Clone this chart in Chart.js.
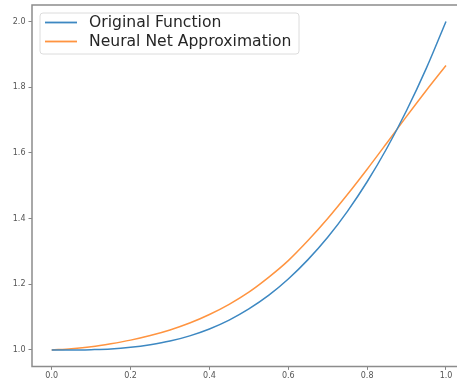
<!DOCTYPE html>
<html>
<head>
<meta charset="utf-8">
<script src="https://cdn.jsdelivr.net/npm/chart.js@4.4.0/dist/chart.umd.min.js"></script>
<style>
  html, body { margin: 0; padding: 0; background: #fff; overflow: hidden; width: 457px; height: 381px; }
  #wrap { position: absolute; left: 0; top: 0; width: 457px; height: 381px; overflow: hidden; }
  #c { display: block; }
</style>
</head>
<body>
<div id="wrap"><canvas id="c" width="470" height="381"></canvas></div>
<script>
const xValues = [0.00, 0.05, 0.10, 0.15, 0.20, 0.25, 0.30, 0.35, 0.40, 0.45, 0.50,
                 0.55, 0.60, 0.65, 0.70, 0.75, 0.80, 0.85, 0.90, 0.95, 1.00];
const originalValues = [1.000, 1.000, 1.001, 1.003, 1.008, 1.016, 1.027, 1.043, 1.064, 1.091, 1.125,
                        1.166, 1.216, 1.275, 1.343, 1.422, 1.512, 1.614, 1.729, 1.857, 2.000];
const nnValues = [1.000, 1.004, 1.010, 1.019, 1.030, 1.044, 1.061, 1.082, 1.108, 1.139, 1.176,
                  1.221, 1.272, 1.333, 1.400, 1.473, 1.550, 1.630, 1.711, 1.790, 1.866];
const seriesNames = ['Original Function', 'Neural Net Approximation'];
const xTicks = [0.0, 0.2, 0.4, 0.6, 0.8, 1.0];
const yTicks = [1.0, 1.2, 1.4, 1.6, 1.8, 2.0];

const BLUE = '#3d88c2', ORANGE = '#ff9440';

const framePlugin = {
  id: 'frame',
  afterDatasetsDraw(chart) {
    const { ctx, chartArea: a } = chart;
    ctx.save();
    ctx.strokeStyle = '#8c8c8c';
    ctx.lineWidth = 1.5;
    ctx.beginPath();
    ctx.moveTo(a.right + 5, a.top);
    ctx.lineTo(a.left, a.top);
    ctx.lineTo(a.left, a.bottom);
    ctx.lineTo(a.right + 5, a.bottom);
    ctx.stroke();
    ctx.restore();
  }
};

const legendPlugin = {
  id: 'innerLegend',
  afterDraw(chart) {
    const { ctx } = chart;
    const bx = 40, by = 13, bw = 259, bh = 41, r = 3;
    ctx.save();
    ctx.fillStyle = 'rgba(255,255,255,0.9)';
    ctx.strokeStyle = '#dcdcdc';
    ctx.lineWidth = 1;
    ctx.beginPath();
    ctx.moveTo(bx + r, by);
    ctx.arcTo(bx + bw, by, bx + bw, by + bh, r);
    ctx.arcTo(bx + bw, by + bh, bx, by + bh, r);
    ctx.arcTo(bx, by + bh, bx, by, r);
    ctx.arcTo(bx, by, bx + bw, by, r);
    ctx.closePath();
    ctx.fill();
    ctx.stroke();
    const rows = [22.5, 41.5];
    chart.data.datasets.forEach((ds, i) => {
      ctx.strokeStyle = ds.borderColor;
      ctx.lineWidth = 1.8;
      ctx.beginPath();
      ctx.moveTo(45, rows[i]);
      ctx.lineTo(77, rows[i]);
      ctx.stroke();
      ctx.fillStyle = '#262626';
      ctx.font = '15.6px "DejaVu Sans"';
      ctx.textBaseline = 'middle';
      ctx.textAlign = 'left';
      ctx.fillText(ds.label, 89, rows[i] + 0.5);
    });
    ctx.restore();
  }
};

const tickFont = { family: 'DejaVu Sans', size: 8 };

new Chart(document.getElementById('c'), {
  type: 'line',
  data: {
    datasets: [
      { label: seriesNames[0], data: xValues.map((x, i) => ({ x, y: originalValues[i] })),
        borderColor: BLUE, borderWidth: 1.5, pointRadius: 0, fill: false, cubicInterpolationMode: 'monotone' },
      { label: seriesNames[1], data: xValues.map((x, i) => ({ x, y: nnValues[i] })),
        borderColor: ORANGE, borderWidth: 1.5, pointRadius: 0, fill: false, cubicInterpolationMode: 'monotone' }
    ]
  },
  options: {
    responsive: false,
    animation: false,
    events: [],
    layout: { padding: { top: 5, right: 4.3, left: 0, bottom: 0 } },
    plugins: { legend: { display: false }, tooltip: { enabled: false } },
    scales: {
      x: {
        type: 'linear', min: -0.05, max: 1.05,
        afterBuildTicks(s) { s.ticks = xTicks.map(v => ({ value: v })); },
        afterFit(s) { s.height = 14.6; s.paddingLeft = 0; s.paddingRight = 0; },
        grid: { display: true, drawOnChartArea: false, drawTicks: true, tickLength: 3.5, color: '#666', lineWidth: 0.8 },
        border: { display: false },
        ticks: { font: tickFont, color: '#555', padding: 1, maxRotation: 0, autoSkip: false, callback: v => v.toFixed(1) }
      },
      y: {
        type: 'linear', min: 0.95, max: 2.05,
        afterBuildTicks(s) { s.ticks = yTicks.map(v => ({ value: v })); },
        afterFit(s) { s.width = 32; s.paddingTop = 0; s.paddingBottom = 0; },
        grid: { display: true, drawOnChartArea: false, drawTicks: true, tickLength: 3.5, color: '#666', lineWidth: 0.8 },
        border: { display: false },
        ticks: { font: tickFont, color: '#555', padding: 3, autoSkip: false, callback: v => v.toFixed(1) }
      }
    }
  },
  plugins: [framePlugin, legendPlugin]
});
</script>
</body>
</html>
